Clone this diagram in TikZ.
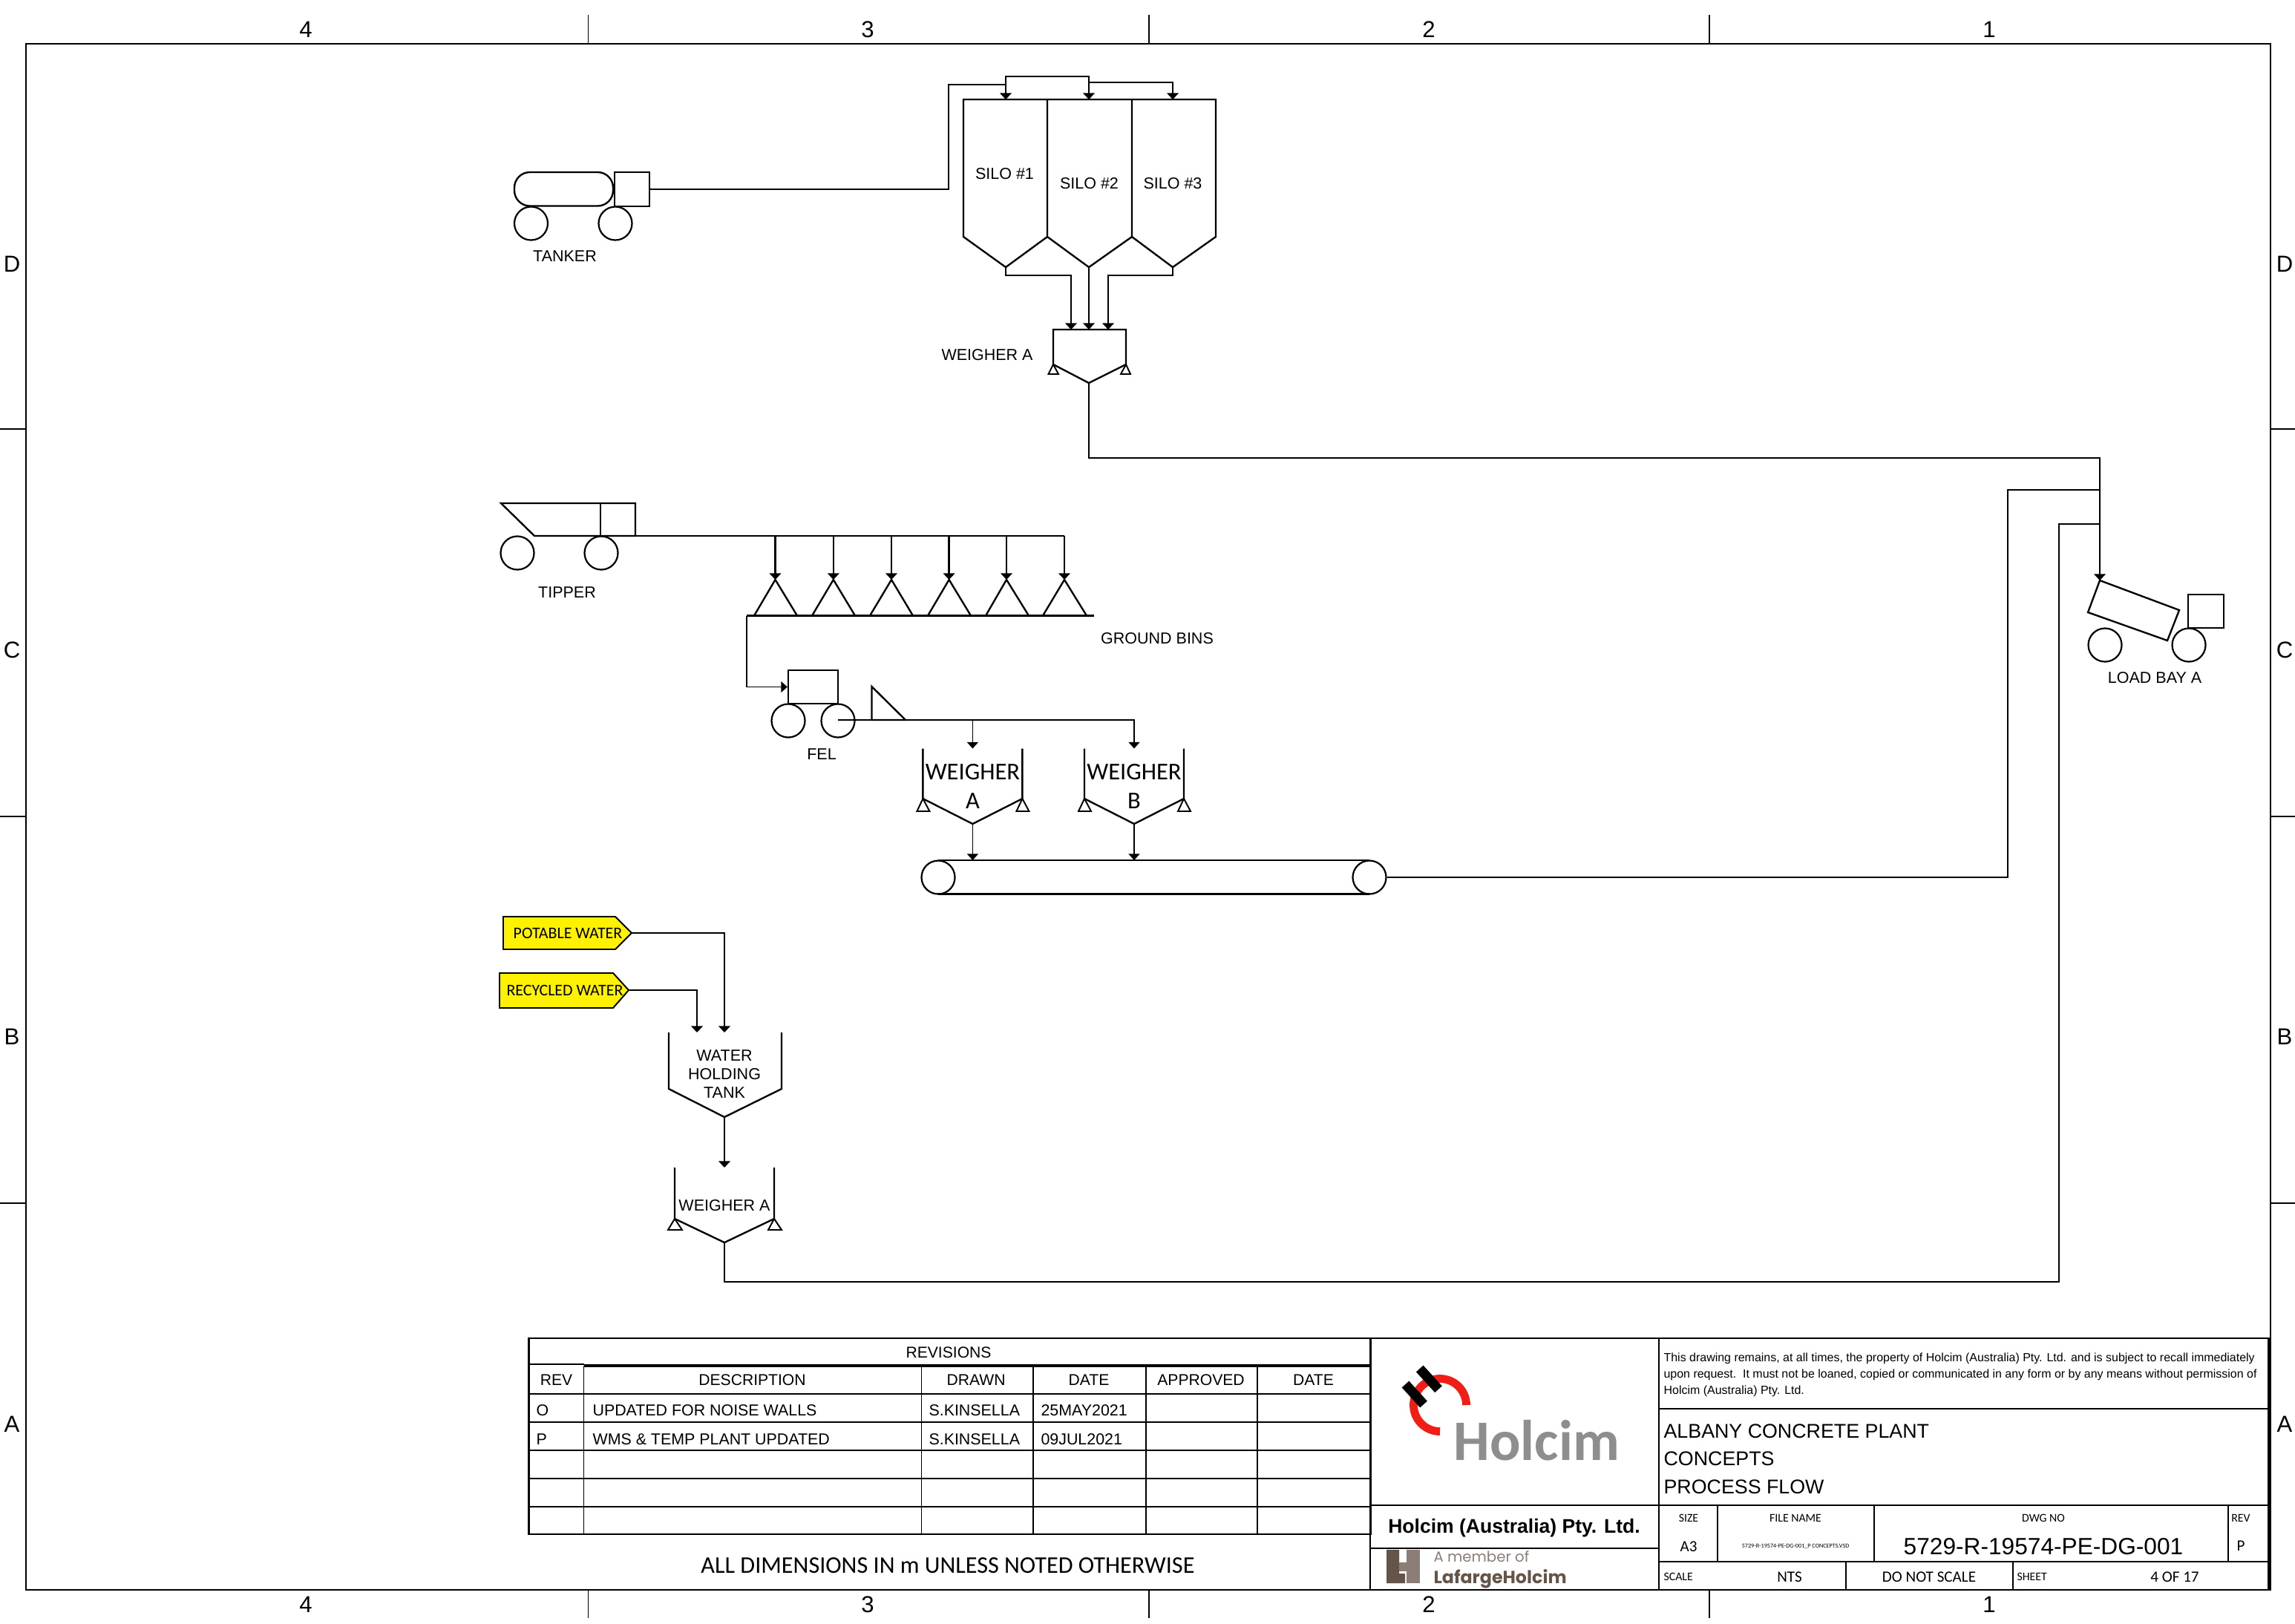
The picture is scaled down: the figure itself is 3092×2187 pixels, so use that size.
\documentclass[tikz,border=0pt]{standalone}
\usepackage{fontspec}
\setmainfont{Liberation Sans}
\newfontfamily\carl{Carlito}
\newfontfamily\popp{Poppins}
\usetikzlibrary{arrows.meta,calc}
\newcommand\F[1]{\fontsize{#1}{#1}\selectfont}
\definecolor{hgrey}{HTML}{8E8E8E}
\definecolor{hred}{HTML}{F01E14}
\definecolor{ldark}{HTML}{655549}
\definecolor{llight}{HTML}{8C7E76}
\tikzset{
  pic line/.style={line width=0.85pt,line join=miter},
  frameline/.style={line width=0.9pt},
  thickline/.style={line width=1.4pt},
  thinline/.style={line width=0.7pt},
  flow/.style={line width=0.85pt,-{Triangle[length=3.1pt,width=5.6pt]}},
  thinflow/.style={line width=0.55pt,-{Triangle[length=3.1pt,width=5.4pt]}},
  flownt/.style={line width=0.85pt},
  wheel/.style={circle,draw,line width=0.8pt,minimum size=16.2pt,inner sep=0pt},
  lab/.style={inner sep=0pt,font=\F{7.74},align=center},
  leftlab/.style={inner sep=0pt,anchor=west,font=\F{7.7},yshift=-0.4pt},
  hdr/.style={inner sep=0pt,font=\F{7.6},yshift=-0.4pt},
  tag/.style={inner sep=0pt,font=\carl\F{7.9}},
  bigcarl/.style={inner sep=0pt,font=\carl\F{11.7},align=center},
  marg/.style={inner sep=0pt,font=\F{11.2},yshift=-0.3pt},
  tiny/.style={inner sep=0pt,font=\carl\F{5.7},yshift=-0.3pt},
  val/.style={inner sep=0pt,font=\carl\F{7.6},yshift=-0.3pt},
  discl/.style={inner sep=0pt,anchor=west,font=\F{5.75},yshift=-0.5pt},
  titletxt/.style={inner sep=0pt,anchor=west,font=\F{9.65},yshift=-0.4pt},
  box/.style={rectangle,draw,line width=0.85pt,inner sep=0pt},
}
\begin{document}
\begin{tikzpicture}[x=0.36pt,y=-0.36pt]
\useasboundingbox (0,0) rectangle (3092,2187);
\fill[white] (0,0) rectangle (3092,2187);

%% ---------- sheet frame ----------
\draw[frameline] (35,59) rectangle (3059,2142);
\foreach \xx in {792.5,1548,2303}{
  \draw[thinline] (\xx,20) -- (\xx,59);
  \draw[thinline] (\xx,2142) -- (\xx,2180);
}
\foreach \yy in {578,1100,1621}{
  \draw[thinline] (0,\yy) -- (35,\yy);
  \draw[thinline] (3059,\yy) -- (3092,\yy);
}
\foreach \txt/\xx/\nm in {4/412/a,3/1169/b,2/1925/c,1/2680/d}{
  \node[marg] (top\nm) at (\xx,39) {\txt};
  \node[marg] (bot\nm) at (\xx,2161) {\txt};
}
\foreach \txt/\yy in {D/355,C/875,B/1396,A/1918}{
  \node[marg] (left\txt) at (16,\yy) {\txt};
  \node[marg] (right\txt) at (3078,\yy) {\txt};
}

%% ---------- tanker ----------
\draw[pic line,rounded corners=7.5pt] (693,232) rectangle (826,277.5);
\node[box,minimum width=16.9pt,minimum height=16.4pt] (tankcab) at (851.5,255) {};
\node[wheel] (tw1) at (715.5,301) {};
\node[wheel] (tw2) at (829,301) {};
\node[lab] (tankerlab) at (761,345) {TANKER};

%% ---------- silos ----------
\draw[pic line] (1298,134) -- (1411,134) -- (1411,319) -- (1355,360) -- (1298,319) -- cycle;
\draw[pic line] (1411,134) -- (1525,134) -- (1525,319) -- (1467,360) -- (1411,319);
\draw[pic line] (1525,134) -- (1638,134) -- (1638,319) -- (1580,360) -- (1525,319);
\coordinate (s1top) at (1355,134);
\coordinate (s2top) at (1467,134);
\coordinate (s3top) at (1580,134);
\coordinate (s1bot) at (1355,360);
\coordinate (s2bot) at (1467,360);
\coordinate (s3bot) at (1580,360);
\node[lab] (silo1) at (1353.5,234) {SILO \#1};
\node[lab] (silo2) at (1467.5,247) {SILO \#2};
\node[lab] (silo3) at (1580,247) {SILO \#3};

\coordinate (fillA) at (1278,114);
\coordinate (fillJ) at (1355,114);
\coordinate (fillB) at (1355,103);
\coordinate (fillC) at (1467,103);
\coordinate (fillD) at (1467,111);
\draw[flownt] (tankcab.east) -| (fillA) -- (fillJ);
\draw[flow] (fillJ) -- (s1top);
\draw[flow] (fillJ) -- (fillB) -- (fillC) -- (s2top);
\draw[flow] (fillD) -| (s3top);

%% ---------- upper weigher ----------
\draw[pic line] (1419,444) -- (1517,444) -- (1517,491) -- (1467,516) -- (1419,491) -- cycle;
\draw[thinline] (1419,491) -- (1412.5,504) -- (1426,504) -- cycle;
\draw[thinline] (1517,491) -- (1510,504) -- (1523,504) -- cycle;
\coordinate (wta) at (1443,444);
\coordinate (wtb) at (1467,444);
\coordinate (wtc) at (1493,444);
\coordinate (wbot) at (1467,516);
\coordinate (s1mid) at (1355,371);
\coordinate (s1midb) at (1443,371);
\coordinate (s3mid) at (1580,371);
\coordinate (s3midb) at (1493,371);
\draw[flow] (s1bot) -- (s1mid) -- (s1midb) -- (wta);
\draw[flow] (s2bot) -- (wtb);
\draw[flow] (s3bot) -- (s3mid) -- (s3midb) -- (wtc);
\node[lab] (weigherU) at (1330,478) {WEIGHER A};

%% ---------- load bay ----------
\draw[pic line] (2829,782) -- (2936,822) -- (2920,863) -- (2813,825) -- cycle;
\node[box,minimum width=17.3pt,minimum height=16.2pt] (baycab) at (2972,823.5) {};
\node[wheel] (bw1) at (2836,869) {};
\node[wheel] (bw2) at (2949,869) {};
\node[lab] (baylab) at (2903,913) {LOAD BAY A};
\coordinate (baytop) at (2829,782);
\coordinate (bayfeed) at (2829,617);
\coordinate (bayj1) at (2829,660);
\coordinate (bayj2) at (2829,706);
\draw[flow] (wbot) |- (bayfeed) -- (baytop);

%% ---------- tipper ----------
\draw[pic line] (675,678) -- (856,678) -- (856,722) -- (720,722) -- cycle;
\draw[pic line] (809,678) -- (809,722);
\node[wheel] (tp1) at (697,745) {};
\node[wheel] (tp2) at (810,745) {};
\node[lab] (tipperlab) at (764,798) {TIPPER};
\coordinate (tipbase) at (856,722);
\coordinate (busend) at (1434,722);
\draw[flownt] (tipbase) -- (busend);
\foreach \xx/\aa/\bb/\nn in {1044.5/1016/1074/1,1122.8/1094/1152/2,1201/1172/1230/3,1278.6/1250/1308/4,1356/1328/1386/5,1434/1405/1464/6}{
  \draw[pic line] (\aa,829.5) -- (\xx,781) -- (\bb,829.5);
  \coordinate (bin\nn) at (\xx,781);
  \coordinate (bus\nn) at (\xx,722);
  \draw[flow] (bus\nn) -- (bin\nn);
}
\coordinate (gbl) at (1006,829.5);
\coordinate (gbr) at (1474,829.5);
\draw[pic line] (gbl) -- (gbr);
\node[lab] (groundlab) at (1559,860) {GROUND BINS};

%% ---------- FEL ----------
\node[box,minimum width=24.1pt,minimum height=16.2pt] (felbox) at (1095.5,925.5) {};
\node[wheel] (fw1) at (1062,971) {};
\node[wheel] (fw2) at (1129,971) {};
\node[lab] (fellab) at (1107,1016) {FEL};
\draw[pic line] (1174.5,925) -- (1174.5,970) -- (1220,970) -- cycle;
\draw[thinflow] (gbl) |- (felbox.west);

%% ---------- weighers A, B ----------
\foreach \cx/\nm/\lt in {1310.4/wa/A,1528/wb/B}{
  \draw[pic line] (\cx-67,1008.5) -- (\cx-67,1076) -- (\cx,1110) -- (\cx+67,1076) -- (\cx+67,1008.5);
  \draw[thinline] (\cx-67,1076) -- ++(-8,17) -- ++(17,0) -- cycle;
  \draw[thinline] (\cx+67,1076) -- ++(-8,17) -- ++(17,0) -- cycle;
  \coordinate (\nm top) at (\cx,1008.5);
  \coordinate (\nm bot) at (\cx,1110);
  \coordinate (\nm belt) at (\cx,1159);
  \node[bigcarl] (\nm t1) at (\cx,1040) {WEIGHER};
  \node[bigcarl] (\nm t2) at (\cx,1079) {\lt};
}
\coordinate (felfeed) at (1129,970);
\draw[thinflow] (felfeed) -| (wbtop);
\coordinate (wafeedj) at (1310.4,970);
\draw[thinflow] (wafeedj) -- (watop);
\draw[thinflow] (wabot) -- (wabelt);
\draw[thinflow] (wbbot) -- (wbbelt);

%% ---------- conveyor ----------
\draw[pic line] (1264,1159.3) -- (1845,1159.3);
\draw[pic line] (1264,1204.5) -- (1845,1204.5);
\node[wheel] (cv1) at (1264,1182) {};
\node[wheel] (cv2) at (1845,1182) {};
\coordinate (cvturn) at (2705,1182);
\draw[flownt] (cv2.east) -- (cvturn) |- (bayj1);

%% ---------- water ----------
\draw[thinline,fill=yellow] (678,1235) -- (829,1235) -- (851,1257) -- (829,1279) -- (678,1279) -- cycle;
\draw[thinline,fill=yellow] (673,1311) -- (826,1311) -- (847,1334) -- (826,1358) -- (673,1358) -- cycle;
\node[tag] (potable) at (765,1257.5) {POTABLE WATER};
\node[tag] (recycled) at (761,1334.5) {RECYCLED WATER};
\coordinate (potend) at (851,1257);
\coordinate (recend) at (847,1334);
\coordinate (hta) at (939,1391);
\coordinate (htb) at (976,1391);
\draw[flow] (potend) -| (htb);
\draw[flow] (recend) -| (hta);
\draw[pic line] (901,1391) -- (901,1467) -- (976,1505) -- (1053,1467) -- (1053,1391);
\coordinate (htbot) at (976,1505);
\node[lab] (wht1) at (976,1422) {WATER};
\node[lab] (wht2) at (976,1447) {HOLDING};
\node[lab] (wht3) at (976,1472) {TANK};
\draw[pic line] (909,1573) -- (909,1642) -- (976,1674) -- (1043,1642) -- (1043,1573);
\draw[thinline] (909,1642) -- (900,1657) -- (919,1657) -- cycle;
\draw[thinline] (1043,1642) -- (1035,1657) -- (1053,1657) -- cycle;
\coordinate (lwtop) at (976,1573);
\coordinate (lwbot) at (976,1674);
\node[lab] (lwlab) at (976,1624) {WEIGHER A};
\draw[flow] (htbot) -- (lwtop);
\coordinate (lwrun) at (976,1727);
\coordinate (lwturn) at (2774,1727);
\draw[flownt] (lwbot) -- (lwrun) -- (lwturn) |- (bayj2);

%% ---------- revisions table ----------
\draw[frameline] (712.5,1803) rectangle (1846.5,2067);
\draw[thickline] (786.5,1840) -- (1846.5,1840);
\draw[thinline] (712.5,1838) -- (786.5,1838);
\foreach \yy in {1878,1916,1954,1992,2030}{
  \draw[thinline] (712.5,\yy) -- (1846.5,\yy);
}
\foreach \xx in {786.5,1241.5,1392,1544,1694}{
  \draw[thinline] (\xx,1840) -- (\xx,2067);
}
\node[hdr] (revt) at (1278,1821) {REVISIONS};
\node[hdr] (h1) at (749.5,1858) {REV};
\node[hdr] (h2) at (1013.5,1858) {DESCRIPTION};
\node[hdr] (h3) at (1315,1858) {DRAWN};
\node[hdr] (h4) at (1467,1858) {DATE};
\node[hdr] (h5) at (1618,1858) {APPROVED};
\node[hdr] (h6) at (1769.5,1858) {DATE};
\node[leftlab] (r1a) at (722,1899) {O};
\node[leftlab] (r1b) at (798,1899) {UPDATED FOR NOISE WALLS};
\node[leftlab] (r1c) at (1251,1899) {S.KINSELLA};
\node[leftlab] (r1d) at (1402,1899) {25MAY2021};
\node[leftlab] (r2a) at (722,1938) {P};
\node[leftlab] (r2b) at (798,1938) {WMS \& TEMP PLANT UPDATED};
\node[leftlab] (r2c) at (1251,1938) {S.KINSELLA};
\node[leftlab] (r2d) at (1402,1938) {09JUL2021};
\node[inner sep=0pt,font=\carl\F{11.6}] (dims) at (1277,2109) {ALL DIMENSIONS IN m UNLESS NOTED OTHERWISE};

%% ---------- title block ----------
\draw[frameline] (1846,1803) rectangle (3056.5,2142);
\draw[frameline] (2235,1803) -- (2235,2142);
\draw[frameline] (2235,1898) -- (3056.5,1898);
\draw[frameline] (1846,2028) -- (3056.5,2028);
\draw[frameline] (1846,2086) -- (2235,2086);
\draw[frameline] (2235,2104) -- (3056.5,2104);
\foreach \xx in {2313.5,2524.5,3002}{\draw[thinline] (\xx,2028) -- (\xx,2104);}
\foreach \xx in {2487,2712}{\draw[thinline] (\xx,2104) -- (\xx,2142);}

\node[discl] (d1) at (2241,1829) {This drawing remains, at all times, the property of Holcim (Australia) Pty. Ltd. and is subject to recall immediately};
\node[discl] (d2) at (2241,1851) {upon request.\ \ It must not be loaned, copied or communicated in any form or by any means without permission of};
\node[discl] (d3) at (2241,1873) {Holcim (Australia) Pty. Ltd.};
\node[titletxt] (t1) at (2241,1927) {ALBANY CONCRETE PLANT};
\node[titletxt] (t2) at (2241,1964) {CONCEPTS};
\node[titletxt] (t3) at (2241,2002) {PROCESS FLOW};
\node[inner sep=0pt,font=\bfseries\F{9.55},yshift=-0.2pt] (co) at (2040,2058) {Holcim (Australia) Pty. Ltd.};

\node[tiny] (l1) at (2275,2045) {SIZE};
\node[tiny] (l2) at (2419,2045) {FILE NAME};
\node[tiny] (l3) at (2753,2045) {DWG NO};
\node[tiny] (l4) at (3019,2045) {REV};
\node[val] (v1) at (2275,2083) {A3};
\node[inner sep=0pt,font=\carl\F{2.93}] (v2) at (2419,2083) {5729-R-19574-PE-DG-001\_P CONCEPTS.VSD};
\node[inner sep=0pt,font=\F{11.4},yshift=-0.4pt] (v3) at (2753,2082) {5729-R-19574-PE-DG-001};
\node[val] (v4) at (3019,2082) {P};
\node[tiny,anchor=west] (s1) at (2241,2124) {SCALE};
\node[val] (s2) at (2411,2124) {NTS};
\node[val] (s3) at (2599,2124) {DO NOT SCALE};
\node[tiny,anchor=west] (s4) at (2717,2124) {SHEET};
\node[val] (s5) at (2930,2124) {4 OF 17};

%% ---------- Holcim logo ----------
\draw[hred,line width=3.9pt] (1975.5,1893) arc[start angle=0,end angle=270,x radius=35.5,y radius=-35.5];
\draw[black,line width=4.7pt] (1893.5,1865) -- (1918,1892);
\draw[black,line width=4.7pt] (1912.7,1844) -- (1938,1871.7);
\node[inner sep=0pt,anchor=base west,text=hgrey,font=\carl\bfseries\F{27.8}] (holcim) at (1958,1967) {Holcim};

%% ---------- LafargeHolcim mark ----------
\fill[ldark] (1868,2088) -- (1885,2088) -- (1885,2120) -- (1893,2120) -- (1893,2133) -- (1868,2133) -- cycle;
\fill[llight] (1895,2088) -- (1913,2088) -- (1913,2133) -- (1895,2133) -- cycle;
\fill[llight] (1885,2105) rectangle (1895,2117);
\node[inner sep=0pt,anchor=base west,text=llight,font=\popp\F{7.1}] (member) at (1931,2104) {A member of};
\node[inner sep=0pt,anchor=base west,text=ldark,font=\popp\bfseries\F{8.55}] (lafarge) at (1931,2133) {LafargeHolcim};
\end{tikzpicture}
\end{document}
